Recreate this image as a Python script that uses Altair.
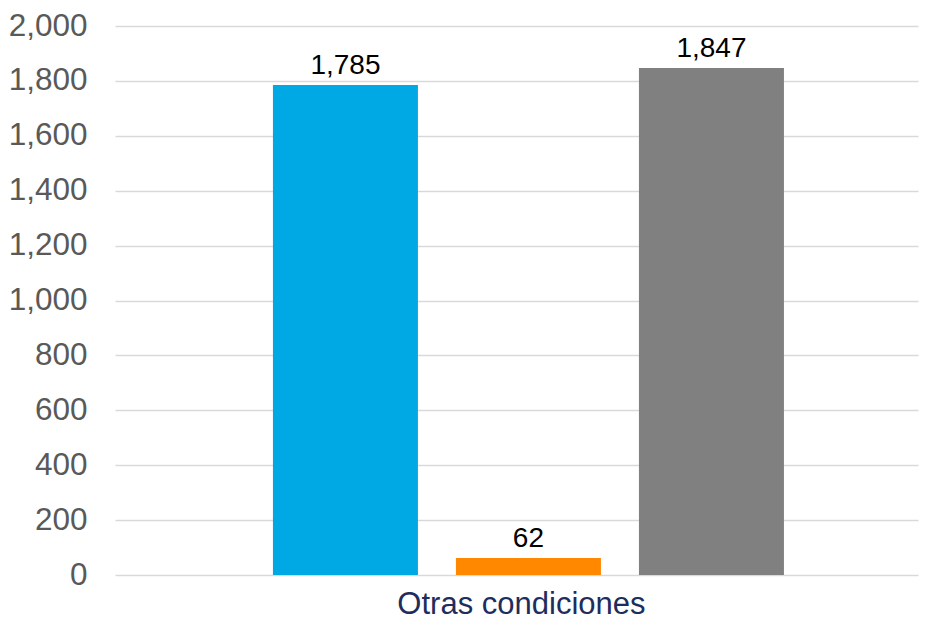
import altair as alt
import pandas as pd

category = ["Otras condiciones"] * 3
series = ["A", "B", "C"]
values = [1785, 62, 1847]
colors = ["#00A8E4", "#FF8800", "#808080"]
labels = ["1,785", "62", "1,847"]

df = pd.DataFrame({"cat": category, "serie": series, "valor": values, "etiqueta": labels})

x_enc = alt.X("cat:N", title=None,
              scale=alt.Scale(paddingOuter=0.2313, align=0.547, paddingInner=0),
              axis=alt.Axis(labelFontSize=31, labelColor="#1F2D5C", labelFont="Liberation Sans",
                            ticks=False, domain=False, labelPadding=14, labelAngle=0, labelOffset=-7,
                            labelLimit=500))
xoff = alt.XOffset("serie:N", scale=alt.Scale(paddingInner=0.2077, paddingOuter=0.10385))
y_enc = alt.Y("valor:Q", title=None,
              scale=alt.Scale(domain=[0, 2000]),
              axis=alt.Axis(values=list(range(0, 2001, 200)), format=",.0f", labelFontSize=31.5,
                            labelColor="#595959", labelFont="Liberation Sans", ticks=False,
                            domain=False, labelPadding=28, gridColor="#D9D9D9", gridWidth=1.5))

bars = alt.Chart(df).mark_bar().encode(
    x=x_enc, xOffset=xoff, y=y_enc,
    color=alt.Color("serie:N", scale=alt.Scale(domain=series, range=colors), legend=None),
)
text = alt.Chart(df).mark_text(baseline="bottom", dy=-5, fontSize=28, font="Liberation Sans",
                               color="#000000").encode(
    x=x_enc, xOffset=xoff, y=y_enc, text="etiqueta:N"
)

chart = (bars + text).properties(
    width=803, height=549,
    autosize=alt.AutoSizeParams(type="none"),
    padding={"left": 107, "top": 18, "right": 5, "bottom": 44},
).configure(background="white").configure_view(stroke=None)

chart.save("out.html", embed_options={"renderer": "svg", "actions": False})
